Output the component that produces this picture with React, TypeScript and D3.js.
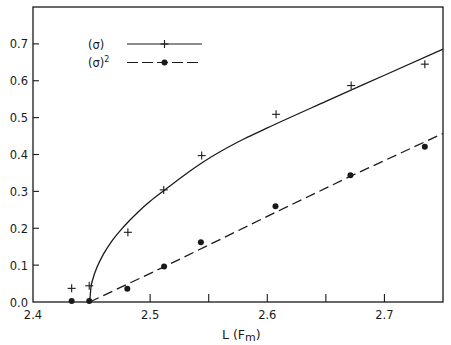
import * as d3 from 'd3';

// measured points
const sigmaL = [2.433, 2.448, 2.481, 2.5116, 2.544, 2.6075, 2.6716, 2.7345];
const sigmaV = [0.037, 0.044, 0.189, 0.304, 0.397, 0.509, 0.587, 0.645];
const sqL = [2.433, 2.448, 2.4805, 2.5119, 2.5433, 2.607, 2.671, 2.7345];
const sqV = [0.003, 0.003, 0.036, 0.096, 0.162, 0.26, 0.344, 0.421];

// fitted curves
const fitSigmaL = [2.4484, 2.4495, 2.451, 2.455, 2.46, 2.467, 2.4754, 2.4824, 2.49, 2.5, 2.5121, 2.53, 2.545, 2.56, 2.58, 2.6, 2.65, 2.7, 2.75];
const fitSigmaV = [0, 0.04, 0.061, 0.097, 0.129, 0.164, 0.197, 0.221, 0.245, 0.273, 0.303, 0.346, 0.379, 0.408, 0.442, 0.472, 0.544, 0.615, 0.686];
const fitSqL = [2.4484, 2.511, 2.607, 2.671, 2.75];
const fitSqV = [0, 0.094, 0.243, 0.341, 0.457];

const yTicks = [0, 0.1, 0.2, 0.3, 0.4, 0.5, 0.6, 0.7];
const xLabels = [2.4, 2.5, 2.6, 2.7];
const xTickMarks = [2.5, 2.55, 2.6, 2.65, 2.7];

const W = 451;
const H = 345;
const ink = '#1a1a1a';
const font = 'DejaVu Sans, sans-serif';

export default function App() {
  const x = d3.scaleLinear().domain([2.4, 2.75]).range([33, 443]);
  const y = d3.scaleLinear().domain([0, 0.8]).range([302, 7]);

  const line = d3
    .line<[number, number]>()
    .x((d) => x(d[0]))
    .y((d) => y(d[1]));
  const smooth = d3
    .line<[number, number]>()
    .x((d) => x(d[0]))
    .y((d) => y(d[1]))
    .curve(d3.curveMonotoneX);

  const sigmaFit = fitSigmaL.map((l, i) => [l, fitSigmaV[i]] as [number, number]);
  const sqFit = fitSqL.map((l, i) => [l, fitSqV[i]] as [number, number]);

  const plus = (cx: number, cy: number, key: string | number) => (
    <g key={key} stroke={ink} strokeWidth={1.1}>
      <line x1={cx - 4} x2={cx + 4} y1={cy} y2={cy} />
      <line x1={cx} x2={cx} y1={cy - 4} y2={cy + 4} />
    </g>
  );

  return (
    <svg
      width={W}
      height={H}
      style={{ position: 'absolute', left: 0, top: 0, background: '#fff' }}
    >
      {/* frame */}
      <rect
        x={x(2.4)}
        y={y(0.8)}
        width={x(2.75) - x(2.4)}
        height={y(0) - y(0.8)}
        fill='none'
        stroke={ink}
        strokeWidth={1.3}
      />

      {/* y axis */}
      {yTicks.map((t) => (
        <g key={t}>
          {t > 0 && (
            <line x1={x(2.4)} x2={x(2.4) + 6} y1={y(t)} y2={y(t)} stroke={ink} strokeWidth={1.1} />
          )}
          <text
            x={28}
            y={y(t) + 4.5}
            textAnchor='end'
            fontFamily={font}
            fontSize={11.5}
            fill={ink}
          >
            {t.toFixed(1)}
          </text>
        </g>
      ))}

      {/* x axis */}
      {xTickMarks.map((t) => (
        <line key={t} x1={x(t)} x2={x(t)} y1={y(0)} y2={y(0) - 8} stroke={ink} strokeWidth={1.1} />
      ))}
      {xLabels.map((t) => (
        <text
          key={t}
          x={x(t)}
          y={319}
          textAnchor='middle'
          fontFamily={font}
          fontSize={11.5}
          fill={ink}
        >
          {t.toFixed(1)}
        </text>
      ))}
      <text x={222} y={338.5} fontFamily={font} fontSize={12.5} fill={ink}>
        L (F
        <tspan fontSize={11} dy={2.5}>m</tspan>
        <tspan dy={-2.5}>)</tspan>
      </text>

      {/* fits */}
      <path d={smooth(sigmaFit) ?? ''} fill='none' stroke={ink} strokeWidth={1.3} />
      <path
        d={line(sqFit) ?? ''}
        fill='none'
        stroke={ink}
        strokeWidth={1.3}
        strokeDasharray='10,5'
      />

      {/* data */}
      {sigmaL.map((l, i) => plus(x(l), y(sigmaV[i]), `p${i}`))}
      {sqL.map((l, i) => (
        <circle key={`d${i}`} cx={x(l)} cy={y(sqV[i])} r={3} fill={ink} />
      ))}

      {/* legend */}
      <text x={88} y={48.5} fontFamily={font} fontSize={11.5} fill={ink}>
        (σ)
      </text>
      <text x={88} y={66.5} fontFamily={font} fontSize={11.5} fill={ink}>
        (σ)
        <tspan fontSize={8} dy={-5}>2</tspan>
      </text>
      <line x1={127} x2={202} y1={44} y2={44} stroke={ink} strokeWidth={1.2} />
      {plus(164.5, 44, 'lp')}
      <line
        x1={127}
        x2={202}
        y1={62.5}
        y2={62.5}
        stroke={ink}
        strokeWidth={1.2}
        strokeDasharray='11,4'
      />
      <circle cx={164.5} cy={62.5} r={3} fill={ink} />
    </svg>
  );
}
